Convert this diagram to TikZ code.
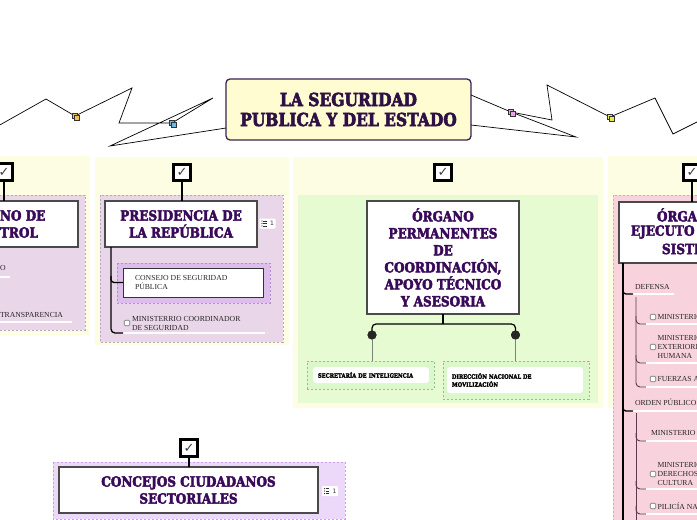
\documentclass[tikz,border=0pt]{standalone}
\usepackage{fontspec}
\setmainfont{Liberation Serif}
\newfontfamily\slab[FakeStretch=0.86, FakeBold=3]{DejaVu Serif}
\newfontfamily\djs{DejaVu Sans}
\newcommand\myhf[2]{\slab\bfseries\fontsize{#1}{#2}\selectfont}
\definecolor{panelY}{HTML}{FDFDE4}
\definecolor{pinkA}{HTML}{EAD6E9}
\definecolor{pinkAb}{HTML}{B9A6C4}
\definecolor{lilac}{HTML}{DCBDEB}
\definecolor{lilacB}{HTML}{B889D6}
\definecolor{greenA}{HTML}{E6FBD2}
\definecolor{greenB}{HTML}{DCF7CA}
\definecolor{greenBb}{HTML}{8CC08C}
\definecolor{pinkR}{HTML}{F8D3DE}
\definecolor{pinkRb}{HTML}{E9A2B8}
\definecolor{lav}{HTML}{ECD8F8}
\definecolor{lavB}{HTML}{C9A1E6}
\definecolor{titleFill}{HTML}{FFFCD2}
\definecolor{titleB}{HTML}{3D2050}
\definecolor{titleT}{HTML}{2E1045}
\definecolor{nodeT}{HTML}{3A0A5A}
\definecolor{boxB}{HTML}{4A4A4A}
\definecolor{treeS}{HTML}{5B3B4B}
\definecolor{icO}{HTML}{F2C14E}
\definecolor{icB}{HTML}{6BB8E0}
\definecolor{icP}{HTML}{E8A6E8}
\definecolor{icY}{HTML}{E8E84A}
\newcommand\listic[2]{%
  \node[fill=white, rounded corners=1pt, minimum width=16pt, minimum height=10pt] (#1) at (#2) {};
  \node[font=\djs\fontsize{6}{6}\selectfont, anchor=east, text=black!80] (#1n) at ([xshift=-1.5pt]#1.east) {1};
  \foreach \dy in {-2.5,0,2.5}{%
    \fill[black!80] ([shift={(-5.5,\dy)}]#1.center) circle (0.6);
    \draw[black!80, line width=0.6pt] ([shift={(-4.3,\dy)}]#1.center) -- ++(3.5,0);}
}
\begin{document}
\begin{tikzpicture}[x=1pt,y=-1pt,
  every node/.style={inner sep=0pt, outer sep=0pt},
  ypanel/.style={fill=panelY, draw=none},
  dpan/.style={dash pattern=on 2.2pt off 1.8pt, line width=0.9pt},
  mbox/.style={draw=boxB, line width=1.4pt, fill=white, text=nodeT, align=center, font=\myhf{14}{17}},
  htxt/.style={text=nodeT, font=\myhf{14}{17}},
  chk/.style={draw=black, line width=2.8pt, fill=white, minimum size=16.5pt, font=\djs\fontsize{13}{13}\selectfont, text=black!75},
  stem/.style={line width=2.4pt, black},
  itm/.style={anchor=west, align=left, font=\fontsize{7.7}{9}\selectfont, text=black!85},
  uline/.style={white, line width=1.3pt},
  cb/.style={draw=black!55, line width=0.6pt, fill=white, rounded corners=1pt, minimum size=5.5pt},
  tree/.style={black, line width=1.3pt},
  subtree/.style={draw=treeS, line width=0.9pt},
  conn/.style={black, line width=0.7pt},
  sq/.style={draw=black!80, line width=0.5pt, minimum size=5pt},
  wbox/.style={fill=white, rounded corners=3pt, align=left, inner xsep=5pt, font=\myhf{6}{8}, text=black}
  ]
\useasboundingbox (0,0) rectangle (697,520);
\clip (0,0) rectangle (697,520);
\fill[white] (0,0) rectangle (697,520);

% background panels
\path[ypanel] (-2,156) rectangle (90,335);
\path[ypanel] (95,157) rectangle (289,345);
\path[ypanel] (293,157) rectangle (603,408);
\path[ypanel] (608,156) rectangle (702,408);
\draw[dpan, draw=pinkAb, fill=pinkA] (-5,195) rectangle (85,330);
\draw[dpan, draw=pinkAb, fill=pinkA] (100,195) rectangle (283,342);
\draw[dpan, draw=lilacB, fill=lilac] (117,263) rectangle (270,303);
\fill[greenA] (298,195) rectangle (598,403);
\draw[dpan, draw=pinkRb, fill=pinkR] (613,195) rectangle (712,530);
\draw[dpan, draw=lavB, fill=lav] (53,462) rectangle (345,519);

% title and its connectors
\node[draw=titleB, line width=1.3pt, fill=titleFill, rounded corners=4pt, minimum width=245pt, minimum height=61pt, align=center, text=titleT, font=\myhf{18}{20}] (title) at (348.5,109.5) {LA SEGURIDAD\\PUBLICA Y DEL ESTADO};
\coordinate (L1) at (110,146);
\coordinate (L2) at (213,98);
\coordinate (L3) at (119,123);
\coordinate (L4) at (132,88);
\coordinate (L5) at (46,99);
\coordinate (L6) at (-2,126);
\coordinate (R1) at (576,137);
\coordinate (R2) at (552,120);
\coordinate (R3) at (547,85);
\coordinate (R4) at (655,98);
\coordinate (R5) at (673,134);
\coordinate (R6) at (699,121);
\coordinate (ibc) at (172,123);
\coordinate (ioc) at (75,116);
\coordinate (ipc) at (511,112);
\coordinate (iyc) at (610,117);
\draw[conn] ([yshift=-18.5pt]title.west) -- (L1) -- (L2) -- (ibc) -- (L3) -- (L4) -- (ioc) -- (L5) -- (L6);
\draw[conn] ([yshift=14.5pt]title.east) -- (ipc) -- (R1) -- ([yshift=-15.5pt]title.east);
\draw[conn] (ipc) -- (R2) -- (R3) -- (iyc) -- (R4) -- (R5) -- (R6);
\node[sq, fill=icB] (ib) at (ibc) {};
\node[sq, fill=icB] (ib2) at ([shift={(2,2)}]ibc) {};
\node[sq, fill=icO] (io) at (ioc) {};
\node[sq, fill=icO] (io2) at ([shift={(2,2)}]ioc) {};
\node[sq, fill=icP] (ip) at (ipc) {};
\node[sq, fill=icP] (ip2) at ([shift={(2,2)}]ipc) {};
\node[sq, fill=icY] (iy) at (iyc) {};
\node[sq, fill=icY] (iy2) at ([shift={(2,2)}]iyc) {};

% panel 1 (cut at left edge)
\node[mbox, minimum width=141pt, minimum height=46pt] (ctrl) at (7.5,224) {};
\node[htxt, anchor=west, align=left] (ctrlt) at (0,224) {NO DE\\TROL};
\node[chk] (c1) at (4,172) {✓};
\draw[stem] (c1.south) -- (c1.south |- ctrl.north);
\node[itm] (lp1) at (0,268) {O};
\draw[uline] (0,277) -- (10,277);
\node[itm] (lp2) at (0,315) {TRANSPARENCIA};
\draw[uline] (0,322) -- (72,322);

% panel 2: presidencia
\node[mbox, minimum width=152pt, minimum height=46pt] (pres) at (181,224) {PRESIDENCIA DE\\LA REPÚBLICA};
\node[chk] (c2) at (182,172.5) {✓};
\draw[stem] (c2.south) -- (c2.south |- pres.north);
\listic{li1}{267.5,223.5}
\node[draw=black!80, line width=1pt, fill=white, minimum width=140pt, minimum height=29pt] (cons) at (193,282.5) {};
\node[itm] (const) at (135,282.5) {CONSEJO DE SEGURIDAD\\PÚBLICA};
\coordinate (pvt) at ([xshift=6pt]pres.south west);
\draw[uline] (123,333) -- (265,333);
\draw[tree, rounded corners=4pt] (pvt) -- (pvt |- 0,333) -- (123,333);
\draw[tree, rounded corners=3pt] (pvt |- 0,276) |- (cons.west);
\node[cb] (cb1) at (127,323) {};
\node[itm] (min1) at (132,323) {MINISTERRIO COORDINADOR\\DE SEGURIDAD};

% panel 3: organo permanentes
\node[mbox, minimum width=152pt, minimum height=113pt] (perm) at (443,257.5) {ÓRGANO\\PERMANENTES\\DE\\COORDINACIÓN,\\APOYO TÉCNICO\\Y ASESORIA};
\node[chk] (c3) at (443,172.5) {✓};
\node[dpan, draw=greenBb, fill=greenB, minimum width=127pt, minimum height=28pt] (secp) at (370.5,375) {};
\node[dpan, draw=greenBb, fill=greenB, minimum width=146pt, minimum height=38pt] (dirp) at (516,380) {};
\node[wbox, text width=106pt, minimum height=16pt] (sec) at (371,375) {SECRETARÍA DE INTELIGENCIA};
\node[wbox, text width=126pt, minimum height=26pt] (dir) at (515,380) {DIRECCIÓN NACIONAL DE\\MOVILIZACIÓN};
\coordinate (pj) at (443,324);
\node[circle, fill=black!85, minimum size=9pt] (dl) at (372,335) {};
\node[circle, fill=black!85, minimum size=9pt] (dr) at (515.5,335) {};
\draw[line width=1.2pt] (perm.south) -- (pj);
\draw[line width=1.2pt, rounded corners=4pt] (dl.center) |- (pj) -| (dr.center);
\draw[gray, line width=0.8pt] (dl) -- (dl |- secp.north);
\draw[gray, line width=0.8pt] (dr) -- (dr |- dirp.north);
\node[circle, fill=black!85, minimum size=9pt] (dl2) at (dl) {};
\node[circle, fill=black!85, minimum size=9pt] (dr2) at (dr) {};

% panel 4: organos ejecutores (cut at right edge)
\node[mbox, minimum width=162pt, minimum height=61pt] (ejec) at (700,232.5) {};
\node[htxt, anchor=west] (ej1) at (657,215) {ÓRGA};
\node[htxt, anchor=west] (ej2) at (631,232) {EJECUTO};
\node[htxt, anchor=west] (ej3) at (662,249) {SISTE};
\node[chk] (c4) at (692,172.5) {✓};
\draw[stem] (c4.south) -- (c4.south |- ejec.north);
\coordinate (rvt) at ([xshift=4pt]ejec.south west);
\draw[tree] (rvt) -- (rvt |- 0,525);
% defensa
\draw[uline] (632,294) -- (674,294);
\draw[tree, rounded corners=3pt] (rvt |- 0,288) |- (633,294);
\node[itm] (def) at (635,286.5) {DEFENSA};
\draw[subtree, rounded corners=4pt] (636,297) |- (646,387);
\foreach \yy in {324,363}{\draw[subtree, rounded corners=4pt] (636,\yy-8) |- (646,\yy);}
\draw[uline] (646,324) -- (700,324);
\draw[uline] (646,363) -- (700,363);
\draw[uline] (646,387) -- (700,387);
\node[cb] (rcb1) at (653,317) {};
\node[itm] (r1) at (657.5,317) {MINISTERIO};
\node[cb] (rcb2) at (653,347) {};
\node[itm] (r2) at (657.5,347) {MINISTERIO\\EXTERIORES\\HUMANA};
\node[cb] (rcb3) at (653,379) {};
\node[itm] (r3) at (657.5,379) {FUERZAS ARMADAS};
% orden publico
\draw[uline] (632,411) -- (700,411);
\draw[tree, rounded corners=3pt] (rvt |- 0,405) |- (633,411);
\node[itm] (ord) at (635,402) {ORDEN PÚBLICO};
\draw[subtree] (636,413) -- (636,525);
\foreach \yy in {441,489,514}{\draw[subtree, rounded corners=4pt] (636,\yy-8) |- (646,\yy);}
\draw[uline] (646,441) -- (700,441);
\draw[uline] (646,489) -- (700,489);
\draw[uline] (646,514) -- (700,514);
\node[itm] (r4) at (651,433) {MINISTERIO};
\node[cb] (rcb5) at (653,474) {};
\node[itm] (r5) at (657.5,474) {MINISTERIO\\DERECHOS\\CULTURA};
\node[cb] (rcb6) at (653,506) {};
\node[itm] (r6) at (657.5,506) {PILICÍA NACIONAL};
\node[cb] (rcb7) at (653,526) {};
\node[itm] (r7) at (657.5,526) {ECU 911};

% bottom: concejos
\node[mbox, minimum width=259pt, minimum height=46pt] (conc) at (188.5,490) {CONCEJOS CIUDADANOS\\SECTORIALES};
\node[chk] (c5) at (189,448) {✓};
\draw[stem] (c5.south) -- (c5.south |- conc.north);
\listic{li2}{330,491}
\end{tikzpicture}
\end{document}
